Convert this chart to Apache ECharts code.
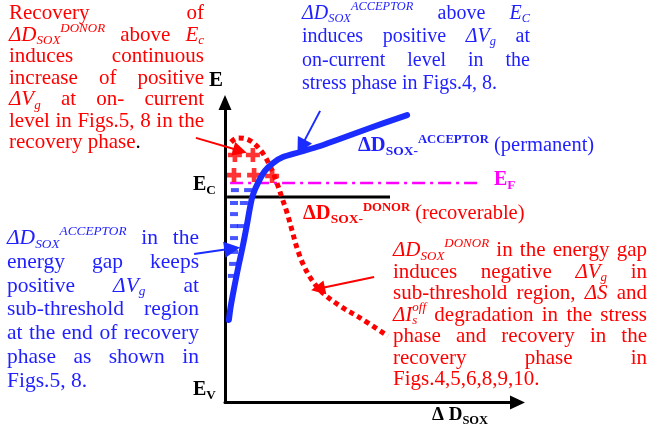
<!DOCTYPE html>
<html>
<head>
<meta charset="utf-8">
<script src="https://cdn.jsdelivr.net/npm/echarts@6/dist/echarts.min.js"></script>
<style>
html, body { margin: 0; padding: 0; background: #fff; }
#chart { width: 649px; height: 430px; }
</style>
</head>
<body>
<div id="chart"></div>
<script>
// Energy-band sketch: trap energy E versus oxide defect density ΔD_SOX.
// Axis units are arbitrary: x 0..97.5 (ΔD_SOX), y 0..100 (E, with E_V at 0).

const X_MAX = 97.5;
const Y_MAX = 100;

// Band levels
const ecLevel = 68.5;           // conduction band edge E_C
const ecSpan = [0.7, 55];
const efLevel = 73.2;           // Fermi level E_F
const efSpan = [1.7, 85];

// Acceptor-type defect distribution (permanent)
const acceptorE = [27.5, 32.0, 38.5, 45.5, 52.5, 59.2, 64.8, 69.2, 73.2, 77.2, 79.8, 81.8, 83.5, 85.5, 87.5, 91.5, 95.8];
const acceptorD = [1.3, 1.9, 3.1, 4.5, 6.0, 7.3, 8.3, 9.3, 11.0, 13.3, 16.0, 19.3, 25.0, 31.7, 37.3, 48.3, 60.7];

// Donor-type defect distribution (recoverable)
const donorE = [86.8, 88.2, 87.8, 85.8, 82.5, 78.2, 73.2, 68.2, 63.2, 57.5, 51.5, 46.2, 41.2, 36.8, 32.2, 28.2, 22.2];
const donorD = [2.0, 4.3, 7.3, 10.3, 13.0, 15.3, 17.3, 19.0, 20.7, 22.3, 24.0, 26.0, 28.7, 32.3, 38.3, 45.0, 54.3];

// Positive charges of ionised donors above E_C
const plusD = [3.3, 9.3, 3.0, 9.7, 15.7];
const plusE = [82.5, 82.5, 75.8, 75.8, 75.5];

// Negative charges of filled acceptors
const minusD = [3.3, 7.7, 3.0, 6.3, 3.0, 3.0, 5.3, 3.0, 3.0, 2.7, 2.3];
const minusE = [70.8, 70.8, 66.5, 66.5, 62.8, 58.8, 58.8, 54.8, 50.2, 46.2, 42.2];

// Pointer arrows from the notes: [fromD, fromE, toD, toE]
const redPointers = [[-9.7, 88.2, 5.0, 83.9], [49.7, 41.8, 31.0, 37.9]];
const bluePointers = [[31.7, 97.2, 25.4, 85.2], [-10.3, 49.5, 2.4, 51.3]];

// Notes
const noteDonorRecovery = [
  { t: 'Recovery of', j: 1 },
  { t: '{i|ΔD}{sb|SOX}{sp|DONOR} above {i|E}{sb|c}', j: 1 },
  { t: 'induces continuous', j: 1 },
  { t: 'increase of positive', j: 1 },
  { t: '{i|ΔV}{sb|g} at on- current', j: 1 },
  { t: 'level in Figs.5, 8 in the', j: 1 },
  { t: 'recovery phase{k|.}', j: 0 }
];
const noteAcceptorStress = [
  { t: '{i|ΔD}{sb|SOX}{sp|ACCEPTOR} above {i|E}{sb|C}', j: 1 },
  { t: 'induces positive {i|ΔV}{sb|g} at', j: 1 },
  { t: 'on-current level in the', j: 1 },
  { t: 'stress phase in Figs.4, 8.', j: 0 }
];
const noteAcceptorGap = [
  { t: '{i|ΔD}{sb|SOX}{sp|ACCEPTOR} in the', j: 1 },
  { t: 'energy gap keeps', j: 1 },
  { t: 'positive {i|ΔV}{sb|g} at', j: 1 },
  { t: 'sub-threshold region', j: 1 },
  { t: 'at the end of recovery', j: 1 },
  { t: 'phase as shown in', j: 1 },
  { t: 'Figs.5, 8.', j: 0 }
];
const noteDonorGap = [
  { t: '{i|ΔD}{sb|SOX}{sp|DONOR} in the energy gap', j: 1 },
  { t: 'induces negative {i|ΔV}{sb|g} in', j: 1 },
  { t: 'sub-threshold region, {i|ΔS} and', j: 1 },
  { t: '{i|ΔI}{sb|s}{ss|off} degradation in the stress', j: 1 },
  { t: 'phase and recovery in the', j: 1 },
  { t: 'recovery phase in', j: 1 },
  { t: 'Figs.4,5,6,8,9,10.', j: 0 }
];

const RED = '#ff0000';
const BLUE = '#1f1fff';
const CURVE_BLUE = '#1a2cff';
const MAGENTA = '#ff00ff';

// ---- text layout helpers (serif text with sub/superscripts, justified lines) ----
const FAMILY = '"Liberation Serif", "Times New Roman", serif';
const STY = {
  n:   { k: 1,    it: 0, b: 0, dy: 0 },
  i:   { k: 1,    it: 1, b: 0, dy: 0 },
  sb:  { k: 0.62, it: 1, b: 0, dy: 0.14 },
  sp:  { k: 0.62, it: 1, b: 0, dy: -0.46 },
  ss:  { k: 0.62, it: 1, b: 0, dy: -0.5, stack: 1 },
  k:   { k: 1,    it: 0, b: 0, dy: 0, fill: '#000' },
  B:   { k: 1,    it: 0, b: 1, dy: 0 },
  Bsb: { k: 0.66, it: 0, b: 1, dy: 0.15 },
  Bsp: { k: 0.62, it: 0, b: 1, dy: -0.42 }
};
const meas = document.createElement('canvas').getContext('2d');

function fontOf(st, S) {
  const sz = Math.round(st.k * S * 10) / 10;
  return (st.it ? 'italic ' : '') + (st.b ? 'bold ' : '') + sz + 'px ' + FAMILY;
}
function parseRuns(w) {
  const out = [];
  const re = /\{(\w+)\|([^}]*)\}|([^{]+)/g;
  let m;
  while ((m = re.exec(w))) {
    if (m[3] !== undefined) out.push({ s: 'n', t: m[3] });
    else out.push({ s: m[1], t: m[2] });
  }
  return out;
}
function layoutRuns(runs, S) {
  let x = 0, prev = null;
  const items = [];
  runs.forEach(r => {
    const st = STY[r.s];
    const font = fontOf(st, S);
    meas.font = font;
    const w = meas.measureText(r.t).width;
    let x0 = x;
    if (st.stack && prev) { x0 = prev.x0; x = Math.max(x, x0 + w); }
    else { x = x0 + w; }
    items.push({ t: r.t, font, x0, dy: st.dy * S, size: st.k * S, fill: st.fill });
    prev = { x0, w };
  });
  return { items, width: x };
}
function textEl(x, baseline, it, fill) {
  return {
    type: 'text', x: x, y: baseline - 0.3375 * it.size, silent: true, z: 100,
    style: {
      text: it.t, font: it.font, fill: fill,
      align: 'left', verticalAlign: 'middle', textAlign: 'left', textVerticalAlign: 'middle'
    }
  };
}
function textBlock(lines, o) {
  const els = [];
  meas.font = fontOf(STY.n, o.S);
  const space = meas.measureText(' ').width;
  lines.forEach((ln, li) => {
    const words = ln.t.split(' ').map(w => layoutRuns(parseRuns(w), o.S));
    const total = words.reduce((a, w) => a + w.width, 0);
    const gap = (ln.j && words.length > 1) ? (o.right - o.left - total) / (words.length - 1) : space;
    const base = o.base + li * o.step;
    let x = o.left;
    words.forEach(w => {
      w.items.forEach(it => els.push(textEl(x + it.x0, base + it.dy, it, it.fill || o.color)));
      x += w.width + gap;
    });
  });
  return els;
}
function label(str, x, base, S, color) {
  const lay = layoutRuns(parseRuns(str), S);
  return lay.items.map(it => textEl(x + it.x0, base + it.dy, it, it.fill || color));
}

const graphics = [].concat(
  textBlock(noteDonorRecovery, { left: 9, right: 204, base: 21, step: 21.5, S: 21, color: RED }),
  textBlock(noteAcceptorStress, { left: 302, right: 530, base: 20, step: 23.5, S: 20, color: BLUE }),
  textBlock(noteAcceptorGap, { left: 7, right: 199, base: 246, step: 23.7, S: 21.5, color: BLUE }),
  textBlock(noteDonorGap, { left: 393, right: 647, base: 258, step: 21.5, S: 21, color: RED }),
  label('{B|ΔD}{Bsb|SOX-}{Bsp|ACCEPTOR}{n| (permanent)}', 358, 153, 20.5, BLUE),
  label('{B|ΔD}{Bsb|SOX-}{Bsp|DONOR}{n| (recoverable)}', 303, 221, 20.5, RED),
  label('{B|E}{Bsb|F}', 494, 187, 20, MAGENTA),
  label('{B|E}{Bsb|C}', 193, 192, 20, '#000'),
  label('{B|E}{Bsb|V}', 193, 397, 20, '#000'),
  label('{B|E}', 209, 88, 21, '#000'),
  label('{B|Δ D}{Bsb|SOX}', 432, 422, 19, '#000')
);

const zip = (xs, ys) => xs.map((x, i) => [x, ys[i]]);
const pointerData = arr => arr.map(p => ({ coords: [[p[0], p[1]], [p[2], p[3]]] }));

const chart = echarts.init(document.getElementById('chart'), null, { renderer: 'canvas' });
chart.setOption({
  animation: false,
  backgroundColor: '#fff',
  grid: { left: 225, right: 131.5, top: 102.5, bottom: 27.5, containLabel: false },
  xAxis: {
    type: 'value', min: 0, max: X_MAX,
    axisLine: { show: true, onZero: false, symbol: ['none', 'triangle'], symbolSize: [14, 15],
      lineStyle: { color: '#000', width: 3 } },
    axisTick: { show: false }, axisLabel: { show: false }, splitLine: { show: false }
  },
  yAxis: {
    type: 'value', min: 0, max: Y_MAX,
    axisLine: { show: true, onZero: false, symbol: ['none', 'triangle'], symbolSize: [13, 15],
      lineStyle: { color: '#000', width: 3 } },
    axisTick: { show: false }, axisLabel: { show: false }, splitLine: { show: false }
  },
  series: [
    {
      name: 'E_C', type: 'line', symbol: 'none', silent: true,
      data: [[ecSpan[0], ecLevel], [ecSpan[1], ecLevel]],
      lineStyle: { color: '#000', width: 3 }, z: 2
    },
    {
      name: 'E_F', type: 'line', symbol: 'none', silent: true,
      data: [[efSpan[0], efLevel], [efSpan[1], efLevel]],
      lineStyle: { color: MAGENTA, width: 2.5, type: [13, 5, 3, 5] }, z: 3
    },
    {
      name: 'acceptor charge', type: 'scatter', symbol: 'rect', symbolSize: [8, 4], silent: true,
      data: zip(minusD, minusE), itemStyle: { color: CURVE_BLUE }, z: 3
    },
    {
      name: 'donor charge', type: 'scatter', silent: true,
      symbol: 'path://M4 0H8V4H12V8H8V12H4V8H0V4H4Z', symbolSize: 14,
      data: zip(plusD, plusE), itemStyle: { color: RED }, z: 3
    },
    {
      name: 'ΔD_SOX donor', type: 'line', symbol: 'none', smooth: 0.35, silent: true,
      data: zip(donorD, donorE),
      lineStyle: { color: RED, width: 5, type: [5, 4], cap: 'butt' }, z: 4
    },
    {
      name: 'ΔD_SOX acceptor', type: 'line', symbol: 'none', smooth: 0.35, silent: true,
      data: zip(acceptorD, acceptorE),
      lineStyle: { color: CURVE_BLUE, width: 6, cap: 'round', join: 'round' }, z: 5
    },
    {
      name: 'red pointers', type: 'lines', coordinateSystem: 'cartesian2d', clip: false, silent: true,
      symbol: ['none', 'triangle'], symbolSize: 14,
      data: pointerData(redPointers),
      lineStyle: { color: RED, width: 2, opacity: 1, curveness: 0 }, z: 6
    },
    {
      name: 'blue pointers', type: 'lines', coordinateSystem: 'cartesian2d', clip: false, silent: true,
      symbol: ['none', 'triangle'], symbolSize: 16,
      data: pointerData(bluePointers),
      lineStyle: { color: CURVE_BLUE, width: 2, opacity: 1, curveness: 0 }, z: 6
    }
  ],
  graphic: graphics
});
</script>
</body>
</html>
